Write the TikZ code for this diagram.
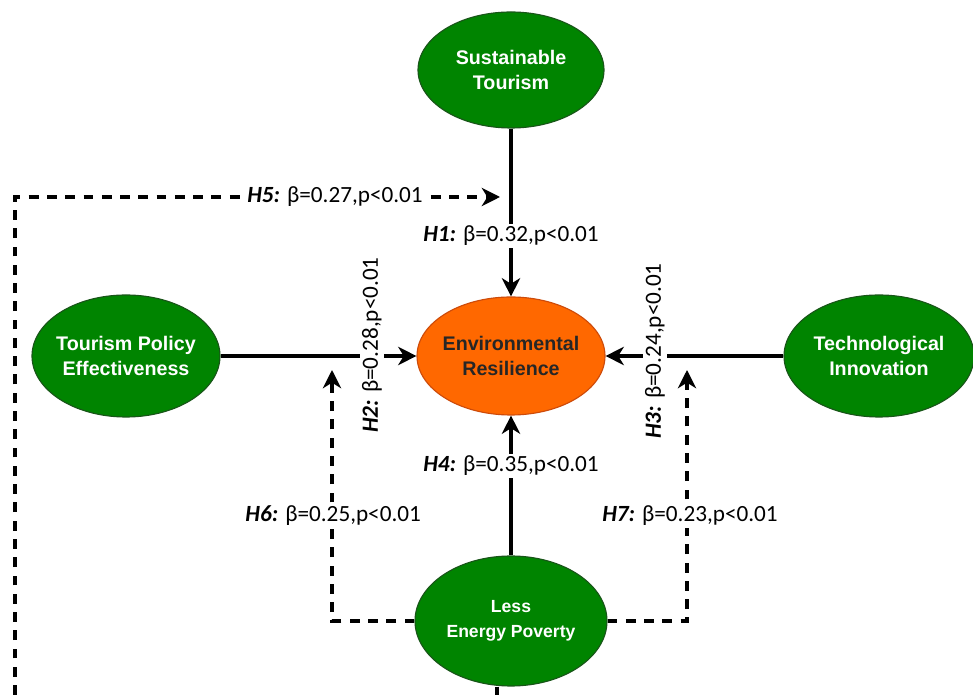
\documentclass[tikz,border=0pt]{standalone}
\usepackage{fontspec}
\setmainfont{Carlito}
\newfontfamily\arialfont{Liberation Sans}
\usetikzlibrary{calc}
\usetikzlibrary{shapes.geometric}
\usetikzlibrary{positioning}
\usetikzlibrary {arrows.meta}

\definecolor{nodegreen}{RGB}{0,132,0}
\definecolor{nodegreenline}{RGB}{25,85,25}
\definecolor{resorange}{RGB}{255,104,0}
\definecolor{resorangeline}{RGB}{205,75,10}

\begin{document}
\begin{tikzpicture}[
    varnode/.style={ellipse, draw=nodegreenline, line width=0.8pt, fill=nodegreen, text=white, align=center, inner sep=-0.4cm, minimum width=4.7cm, minimum height=3cm, font=\arialfont\bfseries\fontsize{14}{18}\selectfont},
    resnode/.style={varnode, draw=resorangeline, fill=resorange, text=black!85},
    pathlabel/.style={fill=white, inner sep=1.5pt, font=\fontsize{16.5}{18}\selectfont},
    solidpath/.style={line width=2.3pt, -{Stealth[length=13pt, width=13pt, inset=4pt]}},
    dashpath/.style={solidpath, dash pattern=on 7pt off 6pt}
]
    \useasboundingbox (0, 0) rectangle (24.325, 17.375);

    % Constructs
    % - [Fig: Outcome in the middle]
    \node at (12.775, 8.475) [resnode, minimum height=2.95cm](er){Environmental\\Resilience};
    % - [Fig: Drivers around it]
    \node at (12.775, 15.625) [varnode, minimum width=4.65cm, minimum height=2.9cm](st){Sustainable\\Tourism};
    \node at (3.15, 8.475) [varnode, minimum height=3.05cm](tpe){Tourism Policy\\Effectiveness};
    \node at (21.975, 8.475) [varnode, minimum width=4.75cm, minimum height=3.05cm](ti){Technological\\Innovation};
    \node at (12.775, 1.85) [varnode, minimum width=4.8cm, minimum height=3.25cm, font=\arialfont\bfseries\fontsize{12.5}{18}\selectfont](lep){Less\\Energy Poverty};

    % Direct paths
    \draw [solidpath] (st) -- (er) ;
    \draw [solidpath] (tpe) -- (er) ;
    \draw [solidpath] (ti) -- (er) ;
    \draw [solidpath] (lep) -- (er) ;
    % -- the cut off line below Less Energy Poverty
    \coordinate (lepstub) at (12.425, 0);
    \draw [line width=2.3pt] (lepstub |- lep.south) -- (lepstub) ;

    % Dashed paths
    % - [Moderating effects]
    \coordinate (h5start) at (0.375, 0);
    \coordinate (h5end) at (12.5, 12.45);
    \coordinate (h6end) at (8.3, 8.125);
    \coordinate (h7end) at (17.175, 8.125);
    \draw [dashpath] (h5start) |- (h5end) ;
    \draw [dashpath] (lep.west) -| (h6end) ;
    \draw [dashpath] (lep.east) -| (h7end) ;

    % Path coefficients
    \node at (12.775, 11.475) [pathlabel](h1){\textbf{\textit{H1:}} β=0.32,p<0.01};
    \node at (9.3, 8.75) [pathlabel, rotate=90](h2){\textbf{\textit{H2:}} β=0.28,p<0.01};
    \node at (16.375, 8.6) [pathlabel, rotate=90](h3){\textbf{\textit{H3:}} β=0.24,p<0.01};
    \node at (12.775, 5.725) [pathlabel](h4){\textbf{\textit{H4:}} β=0.35,p<0.01};
    \node at (8.375, 12.45) [pathlabel](h5){\textbf{\textit{H5:}} β=0.27,p<0.01};
    \node at (8.33, 4.475) [pathlabel](h6){\textbf{\textit{H6:}} β=0.25,p<0.01};
    \node at (17.25, 4.475) [pathlabel](h7){\textbf{\textit{H7:}} β=0.23,p<0.01};

\end{tikzpicture}
\end{document}
